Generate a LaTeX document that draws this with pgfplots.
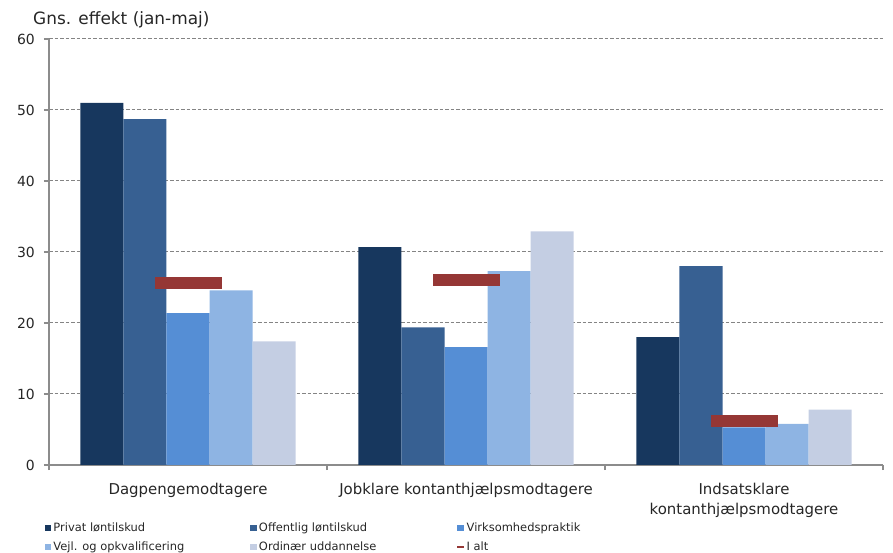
\documentclass[border=0pt]{standalone}
\usepackage{pgfplots}
\pgfplotsset{compat=1.18}
\usepackage{fontspec}
\setmainfont{DejaVu Sans}
\definecolor{c1}{HTML}{17375E}
\definecolor{c2}{HTML}{376092}
\definecolor{c3}{HTML}{558ED5}
\definecolor{c4}{HTML}{8EB4E3}
\definecolor{c5}{HTML}{C4CEE3}
\definecolor{cred}{HTML}{953735}
\definecolor{axgray}{HTML}{8C8C8C}
\definecolor{gridgray}{HTML}{848484}
\pgfplotsset{
  sqlegend/.style={legend image code/.code={\fill[#1] (0bp,-3bp) rectangle (6.5bp,3.5bp);}},
  mybar/.style 2 args={ybar, bar width=0.1547, bar shift=#1, fill=#2, draw=none, sqlegend=#2},
}
\begin{document}
\begin{tikzpicture}
\useasboundingbox (0,0) rectangle (893bp,553bp);
\begin{axis}[
  at={(49bp,88bp)}, anchor=south west,
  scale only axis, width=834bp, height=426bp,
  xmin=-0.5, xmax=2.5, ymin=0, ymax=60,
  ytick={0,10,...,60},
  xtick={-0.5,0.5,1.5,2.5}, xticklabels={},
  extra x ticks={0,1,2},
  extra x tick labels={Dagpengemodtagere, Jobklare kontanthjælpsmodtagere, Indsatsklare\\kontanthjælpsmodtagere},
  extra x tick style={major tick length=0pt, grid=none,
     xticklabel style={font=\fontsize{15}{20}\selectfont, align=center, inner sep=0pt, yshift=-18bp, text=black!85}},
  axis x line*=bottom, axis y line*=left,
  axis line style={-, draw=axgray, line width=1.6bp},
  tick align=outside, major tick length=5bp,
  tick style={draw=axgray, line width=1.3bp},
  ymajorgrids, xmajorgrids=false,
  grid style={gridgray, dashed, line width=1bp, dash pattern=on 3.5bp off 2bp},
  yticklabel style={font=\fontsize{14}{16}\selectfont, inner sep=0pt, xshift=-9bp, text=black!85},
  /pgf/number format/assume math mode=true,
  legend columns=3,
  legend cell align=left,
  legend style={at={(axis description cs:-0.0048,-0.1315)}, anchor=north west, draw=none, fill=none,
     inner sep=0pt, outer sep=0pt, row sep=4.5bp,
     font=\fontsize{11.5}{13}\selectfont,
     nodes={inner sep=2bp, text height=8bp, text depth=2.5bp, text=black!85}},
  clip=false,
]
\addplot[mybar={-0.3094}{c1}] coordinates {(0,51.0) (1,30.7) (2,18.0)};
\addlegendentry{\makebox[195bp][l]{Privat løntilskud}}
\addplot[mybar={-0.1547}{c2}] coordinates {(0,48.7) (1,19.4) (2,28.0)};
\addlegendentry{\makebox[195bp][l]{Offentlig løntilskud}}
\addplot[mybar={0}{c3}] coordinates {(0,21.4) (1,16.6) (2,5.3)};
\addlegendentry{\makebox[195bp][l]{Virksomhedspraktik}}
\addplot[mybar={0.1547}{c4}] coordinates {(0,24.6) (1,27.3) (2,5.8)};
\addlegendentry{\makebox[195bp][l]{Vejl. og opkvalificering}}
\addplot[mybar={0.3094}{c5}] coordinates {(0,17.4) (1,32.9) (2,7.8)};
\addlegendentry{\makebox[195bp][l]{Ordinær uddannelse}}
\addplot[only marks, mark=-, mark size=33.5bp, color=cred, mark options={line width=12bp},
  legend image code/.code={\draw[cred, line width=2.2bp] (0bp,0.5bp) -- (6.5bp,0.5bp);}]
  coordinates {(0,25.6) (1,26.0) (2,6.2)};
\addlegendentry{I alt}
\node[anchor=base west, inner sep=0pt, font=\fontsize{17}{19}\selectfont, text=black!85]
  at ([yshift=14bp]axis description cs:-0.0192,1) {Gns. effekt (jan-maj)};
\end{axis}
\end{tikzpicture}
\end{document}
